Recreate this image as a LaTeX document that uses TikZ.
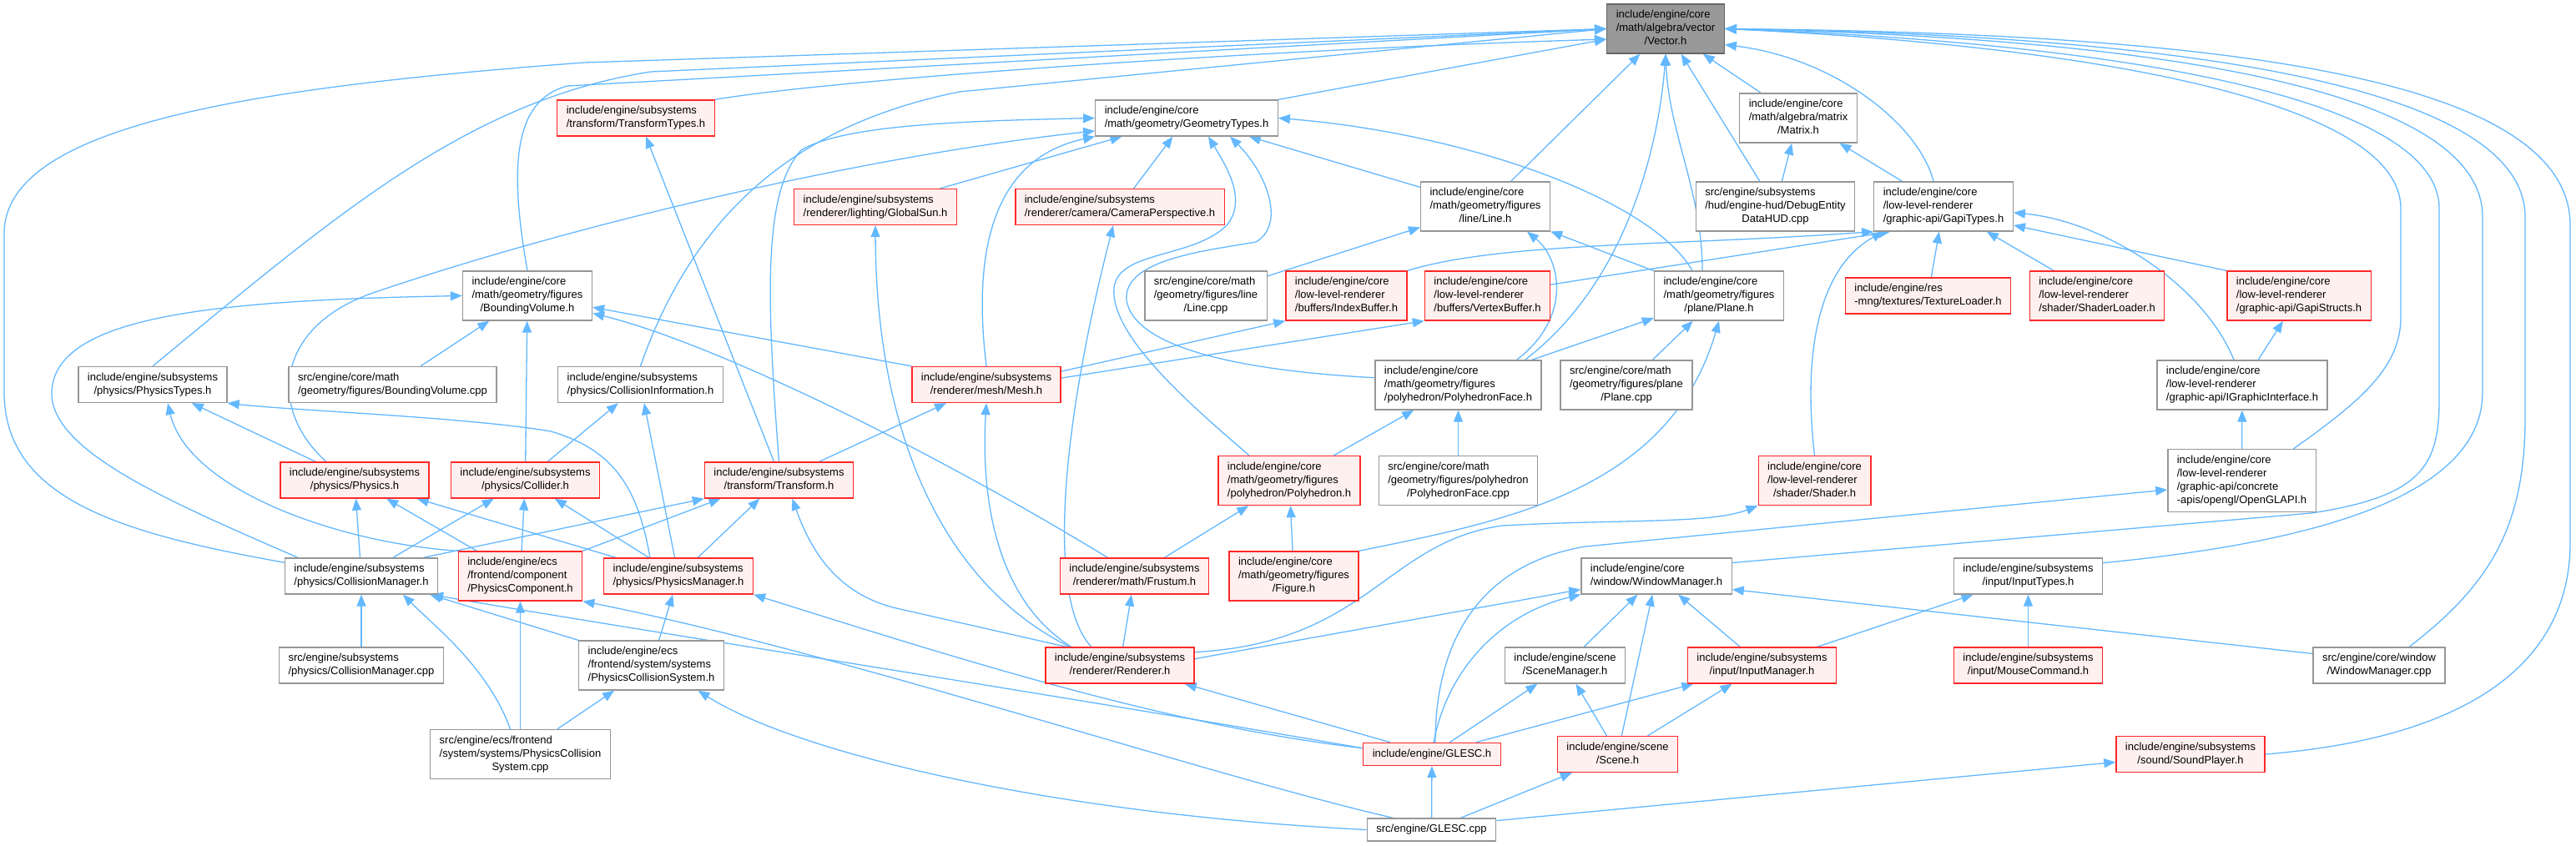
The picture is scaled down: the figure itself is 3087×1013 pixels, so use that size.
\documentclass[tikz,border=0pt]{standalone}
\usepackage{fontspec}
\setmainfont{Liberation Sans}
\definecolor{edgeblue}{RGB}{99,184,255}
\definecolor{boxgray}{RGB}{150,150,150}
\definecolor{rootfill}{RGB}{153,153,153}
\definecolor{rootline}{RGB}{102,102,102}
\definecolor{truncred}{RGB}{255,40,40}
\definecolor{truncfill}{RGB}{255,240,240}
\usetikzlibrary{arrows.meta, backgrounds}
\newcommand{\incpath}[2]{\begin{tabular}{@{}l@{}}#1\\\multicolumn{1}{@{}c@{}}{#2}\end{tabular}}

\begin{document}
\begin{tikzpicture}[x=0.5pt, y=-0.5pt,
    file/.style={draw=boxgray, fill=white, line width=0.65pt, inner xsep=5.5pt,
      inner ysep=2.75pt, font={\fontsize{6.5}{8}\selectfont}},
    trunc/.style={file, draw=truncred, fill=truncfill},
    root/.style={file, draw=rootline, fill=rootfill},
    dep/.style={draw=edgeblue, line width=0.65pt, -{Triangle[length=7pt, width=5.5pt]}},
  ]
    \useasboundingbox (0,0) rectangle (3087,1013);

    \node[root] (vec) at (1996,34.5) {\incpath{include/engine/core\\/math/algebra/vector}{/Vector.h}};
    \node[trunc] (transtypes) at (762,141.5) {\incpath{include/engine/subsystems}{/transform/TransformTypes.h}};
    \node[file] (geomtypes) at (1422,141.5) {\incpath{include/engine/core}{/math/geometry/GeometryTypes.h}};
    \node[file] (matrix) at (2155,141.5) {\incpath{include/engine/core\\/math/algebra/matrix}{/Matrix.h}};
    \node[trunc] (globalsun) at (1049,248) {\incpath{include/engine/subsystems}{/renderer/lighting/GlobalSun.h}};
    \node[trunc] (camera) at (1342,248) {\incpath{include/engine/subsystems}{/renderer/camera/CameraPerspective.h}};
    \node[file] (line) at (1780,247.5) {\incpath{include/engine/core\\/math/geometry/figures}{/line/Line.h}};
    \node[file] (debughud) at (2127.5,247.5) {\incpath{src/engine/subsystems\\/hud/engine-hud/DebugEntity}{DataHUD.cpp}};
    \node[file] (gapitypes) at (2329,247.5) {\incpath{include/engine/core\\/low-level-renderer}{/graphic-api/GapiTypes.h}};
    \node[file] (boundvol) at (632,354.5) {\incpath{include/engine/core\\/math/geometry/figures}{/BoundingVolume.h}};
    \node[file] (linecpp) at (1445,354.5) {\incpath{src/engine/core/math\\/geometry/figures/line}{/Line.cpp}};
    \node[trunc] (indexbuf) at (1613.5,354.5) {\incpath{include/engine/core\\/low-level-renderer}{/buffers/IndexBuffer.h}};
    \node[trunc] (vertexbuf) at (1782.5,354.5) {\incpath{include/engine/core\\/low-level-renderer}{/buffers/VertexBuffer.h}};
    \node[file] (plane) at (2060,354.5) {\incpath{include/engine/core\\/math/geometry/figures}{/plane/Plane.h}};
    \node[trunc] (texloader) at (2310.5,354.5) {\incpath{include/engine/res}{-mng/textures/TextureLoader.h}};
    \node[trunc] (shaderloader) at (2513,354.5) {\incpath{include/engine/core\\/low-level-renderer}{/shader/ShaderLoader.h}};
    \node[trunc] (gapistructs) at (2755,354.5) {\incpath{include/engine/core\\/low-level-renderer}{/graphic-api/GapiStructs.h}};
    \node[file] (phystypes) at (183,461) {\incpath{include/engine/subsystems}{/physics/PhysicsTypes.h}};
    \node[file] (boundvolcpp) at (470.5,461) {\incpath{src/engine/core/math}{/geometry/figures/BoundingVolume.cpp}};
    \node[file] (collinfo) at (767.5,461) {\incpath{include/engine/subsystems}{/physics/CollisionInformation.h}};
    \node[trunc] (mesh) at (1182,461) {\incpath{include/engine/subsystems}{/renderer/mesh/Mesh.h}};
    \node[file] (polyface) at (1747.5,461.5) {\incpath{include/engine/core\\/math/geometry/figures}{/polyhedron/PolyhedronFace.h}};
    \node[file] (planecpp) at (1949,461.5) {\incpath{src/engine/core/math\\/geometry/figures/plane}{/Plane.cpp}};
    \node[file] (igraphic) at (2687,461.5) {\incpath{include/engine/core\\/low-level-renderer}{/graphic-api/IGraphicInterface.h}};
    \node[trunc] (physics) at (425,575.5) {\incpath{include/engine/subsystems}{/physics/Physics.h}};
    \node[trunc] (collider) at (629.5,575.5) {\incpath{include/engine/subsystems}{/physics/Collider.h}};
    \node[trunc] (transform) at (933.5,575.5) {\incpath{include/engine/subsystems}{/transform/Transform.h}};
    \node[trunc] (polyhedron) at (1545,576) {\incpath{include/engine/core\\/math/geometry/figures}{/polyhedron/Polyhedron.h}};
    \node[file] (polyfacecpp) at (1747.5,576) {\incpath{src/engine/core/math\\/geometry/figures/polyhedron}{/PolyhedronFace.cpp}};
    \node[trunc] (shader) at (2174.5,576) {\incpath{include/engine/core\\/low-level-renderer}{/shader/Shader.h}};
    \node[file] (opengl) at (2686.5,576) {\incpath{include/engine/core\\/low-level-renderer\\/graphic-api/concrete}{-apis/opengl/OpenGLAPI.h}};
    \node[file] (collman) at (433,690.5) {\incpath{include/engine/subsystems}{/physics/CollisionManager.h}};
    \node[trunc] (physcomp) at (623.5,690.5) {\incpath{include/engine/ecs\\/frontend/component}{/PhysicsComponent.h}};
    \node[trunc] (physman) at (813,690.5) {\incpath{include/engine/subsystems}{/physics/PhysicsManager.h}};
    \node[trunc] (frustum) at (1359.5,690.5) {\incpath{include/engine/subsystems}{/renderer/math/Frustum.h}};
    \node[trunc] (figure) at (1550.5,690.5) {\incpath{include/engine/core\\/math/geometry/figures}{/Figure.h}};
    \node[file] (winman) at (1985,690.5) {\incpath{include/engine/core}{/window/WindowManager.h}};
    \node[file] (inputtypes) at (2430.5,690.5) {\incpath{include/engine/subsystems}{/input/InputTypes.h}};
    \node[file] (collmancpp) at (433,797.5) {\incpath{src/engine/subsystems}{/physics/CollisionManager.cpp}};
    \node[file] (physcollsys) at (780.5,797.5) {\incpath{include/engine/ecs\\/frontend/system/systems}{/PhysicsCollisionSystem.h}};
    \node[trunc] (renderer) at (1342,797.5) {\incpath{include/engine/subsystems}{/renderer/Renderer.h}};
    \node[file] (scenemgr) at (1875.5,797.5) {\incpath{include/engine/scene}{/SceneManager.h}};
    \node[trunc] (inputmgr) at (2111.5,797.5) {\incpath{include/engine/subsystems}{/input/InputManager.h}};
    \node[trunc] (mousecmd) at (2430.5,797.5) {\incpath{include/engine/subsystems}{/input/MouseCommand.h}};
    \node[file] (winmancpp) at (2851,797.5) {\incpath{src/engine/core/window}{/WindowManager.cpp}};
    \node[file] (physcollsyscpp) at (623.5,904) {\incpath{src/engine/ecs/frontend\\/system/systems/PhysicsCollision}{System.cpp}};
    \node[trunc] (glesch) at (1716,904) {\strut include/engine/GLESC.h};
    \node[trunc] (scene) at (1938.5,904) {\incpath{include/engine/scene}{/Scene.h}};
    \node[trunc] (soundplayer) at (2625,904) {\incpath{include/engine/subsystems}{/sound/SoundPlayer.h}};
    \node[file] (glesccpp) at (1715.5,994.5) {\strut src/engine/GLESC.cpp};

    \begin{scope}[on background layer]
    \fill[white] (0,0) rectangle (3087,1013);
    % into Vector.h
    \draw[dep] (collman.170) .. controls (150,640) and (5,600) .. (5,470) -- (5,280) .. controls (5,150) and (300,105) .. (700,75) -- (vec.west);
    \draw[dep] (phystypes.north) .. controls (400,260) and (560,120) .. (780,86) -- (vec.west);
    \draw[dep] (boundvol.north) .. controls (610,200) and (615,120) .. (680,103) -- (vec.west);
    \draw[dep] (transtypes.north east) .. controls (1000,95) and (1500,60) .. (vec.190);
    \draw[dep] (collinfo.north) .. controls (830,260) and (950,150) .. (1150,110) -- (vec.west);
    \draw[dep] (geomtypes.north east) -- (vec.190);
    \draw[dep] (line) -- (vec);
    \draw[dep] ([xshift=40pt]polyface.north) .. controls (1960,330) and (1990,150) .. (vec.south);
    \draw[dep] ([xshift=-10pt]plane.north) .. controls (2040,230) and (2000,160) .. (vec.south);
    \draw[dep] (debughud) -- (vec);
    \draw[dep] (matrix) -- (vec);
    \draw[dep] ([xshift=-6pt]gapitypes.north) .. controls (2300,150) and (2200,70) .. (vec.-15);
    \draw[dep] ([xshift=31pt]opengl.north) .. controls (2830,480) and (2877,440) .. (2877,380) -- (2877,250) .. controls (2877,120) and (2500,55) .. (vec.east);
    \draw[dep] (winman.10) -- (2770,615) .. controls (2900,595) and (2923,560) .. (2923,480) -- (2923,250) .. controls (2923,110) and (2500,50) .. (vec.east);
    \draw[dep] (inputtypes.10) .. controls (2720,655) and (2975,610) .. (2975,470) -- (2975,260) .. controls (2975,100) and (2550,45) .. (vec.east);
    \draw[dep] ([xshift=18pt]winmancpp.north) .. controls (2985,700) and (3026,630) .. (3026,500) -- (3026,260) .. controls (3026,100) and (2600,42) .. (vec.east);
    \draw[dep] (soundplayer.east) .. controls (2950,885) and (3080,800) .. (3080,650) -- (3080,270) .. controls (3080,90) and (2650,40) .. (vec.east);
    % into GeometryTypes.h
    \draw[dep] (transform.north) .. controls (918,350) and (915,230) .. (960,180) .. controls (1010,150) and (1150,145) .. (geomtypes.west);
    \draw[dep] ([xshift=-17pt]physics.north) .. controls (320,490) and (330,390) .. (450,350) .. controls (700,265) and (1050,185) .. (geomtypes.188);
    \draw[dep] (mesh.north) .. controls (1165,300) and (1190,190) .. (geomtypes.south west);
    \draw[dep] (globalsun) -- (geomtypes);
    \draw[dep] (camera) -- (geomtypes);
    \draw[dep] ([xshift=-24pt]polyhedron.north) .. controls (1420,480) and (1330,400) .. (1335,345) .. controls (1340,300) and (1430,310) .. (1470,270) .. controls (1495,240) and (1470,200) .. ([xshift=13pt]geomtypes.south);
    \draw[dep] (polyface.175) .. controls (1500,445) and (1360,420) .. (1350,360) .. controls (1345,310) and (1450,300) .. (1505,290) .. controls (1540,270) and (1520,210) .. ([xshift=26pt]geomtypes.south);
    \draw[dep] (line) -- (geomtypes);
    \draw[dep] ([xshift=-16pt]plane.north) .. controls (1980,240) and (1760,160) .. (geomtypes.east);
    % Line.h, Matrix.h, GapiTypes.h
    \draw[dep] ([xshift=35pt]polyface.north) .. controls (1885,380) and (1870,310) .. ([xshift=25pt]line.south);
    \draw[dep] (plane) -- (line);
    \draw[dep] (linecpp) -- (line);
    \draw[dep] (debughud) -- (matrix);
    \draw[dep] (gapitypes) -- (matrix);
    \draw[dep] (indexbuf.north east) .. controls (1800,290) and (2000,295) .. (gapitypes.south west);
    \draw[dep] (vertexbuf.10) -- ([xshift=10pt]gapitypes.south west);
    \draw[dep] (shader.north) .. controls (2160,420) and (2180,320) .. ([xshift=-36pt]gapitypes.south);
    \draw[dep] (texloader) -- (gapitypes);
    \draw[dep] (shaderloader) -- (gapitypes);
    \draw[dep] (gapistructs.north west) -- (gapitypes.-15);
    \draw[dep] ([xshift=-5pt]igraphic.north) .. controls (2640,340) and (2520,265) .. (gapitypes.-5);
    \draw[dep] (igraphic) -- (gapistructs);
    \draw[dep] (opengl) -- (igraphic);
    % GLESC
    \draw[dep] (glesch) -- (renderer);
    \draw[dep] (glesch.175) .. controls (1400,870) and (1150,790) .. (physman.south east);
    \draw[dep] (glesch.175) .. controls (1250,830) and (700,745) .. ([xshift=-4pt]collman.south east);
    \draw[dep] ([xshift=2pt]glesch.north) .. controls (1720,760) and (1780,675) .. (1900,655) -- (opengl.187);
    \draw[dep] ([xshift=1pt]glesch.north) .. controls (1735,800) and (1800,735) .. (winman.south west);
    \draw[dep] (glesch) -- (scenemgr);
    \draw[dep] (glesch) -- (inputmgr);
    \draw[dep] (glesccpp) -- (glesch);
    \draw[dep] (glesccpp) -- (scene);
    \draw[dep] (glesccpp.8) -- (soundplayer.186);
    \draw[dep] (glesccpp.west) .. controls (1250,975) and (950,900) .. ([xshift=28pt]physcollsys.south);
    \draw[dep] ([xshift=-23pt]glesccpp.north) .. controls (1450,930) and (1000,780) .. (physcomp.south east);
    % scene, window, input
    \draw[dep] (scene) -- (scenemgr);
    \draw[dep] (scene) -- (winman);
    \draw[dep] (scene) -- (inputmgr);
    \draw[dep] (scenemgr) -- (winman);
    \draw[dep] (inputmgr) -- (winman);
    \draw[dep] (inputmgr) -- (inputtypes);
    \draw[dep] (mousecmd) -- (inputtypes);
    \draw[dep] (winmancpp.170) -- (winman.-10);
    % renderer
    \draw[dep] ([xshift=-32pt]renderer.north) -- (1070,728) .. controls (1010,712) and (975,670) .. ([xshift=8pt]transform.south);
    \draw[dep] ([xshift=-30pt]renderer.north) .. controls (1130,700) and (1050,520) .. (globalsun.south);
    \draw[dep] ([xshift=-29pt]renderer.north) .. controls (1195,720) and (1175,600) .. (mesh.south);
    \draw[dep] ([xshift=-17pt]renderer.north) .. controls (1255,720) and (1270,520) .. ([xshift=-4pt]camera.south);
    \draw[dep] (renderer) -- (frustum);
    \draw[dep] (renderer.10) .. controls (1640,770) and (1660,650) .. (1800,630) .. controls (1950,622) and (2050,628) .. (shader.south west);
    \draw[dep] (renderer.5) -- (winman.190);
    \draw[dep] ([xshift=-16pt]frustum.north) .. controls (1100,530) and (850,410) .. (boundvol.-15);
    \draw[dep] (frustum) -- (polyhedron);
    % mesh, transform
    \draw[dep] (mesh.north west) -- (boundvol.-10);
    \draw[dep] (mesh.10) -- (indexbuf.south west);
    \draw[dep] (mesh.5) -- (vertexbuf.south west);
    \draw[dep] (transform) -- (mesh);
    \draw[dep] ([xshift=-3pt]transform.north) -- ([xshift=6pt]transtypes.south);
    \draw[dep] ([xshift=-9pt]collman.north east) -- (transform.south west);
    \draw[dep] (physcomp.north east) -- ([xshift=-35pt]transform.south);
    \draw[dep] (physman) -- (transform);
    % physics
    \draw[dep] (physics) -- (phystypes);
    \draw[dep] (collman) -- (physics);
    \draw[dep] (physcomp) -- (physics);
    \draw[dep] (physman) -- (physics);
    \draw[dep] (collider) -- (boundvol);
    \draw[dep] (collider) -- (collinfo);
    \draw[dep] (collman) -- (collider);
    \draw[dep] (physcomp) -- (collider);
    \draw[dep] (physman) -- (collider);
    \draw[dep] (physman) -- (collinfo);
    \draw[dep] (physcomp.north west) .. controls (400,650) and (225,585) .. ([xshift=9pt]phystypes.south);
    \draw[dep] ([xshift=-17pt]physman.north) .. controls (765,590) and (740,540) .. (660,517) .. controls (560,500) and (350,492) .. (phystypes.south east);
    \draw[dep] (boundvolcpp) -- (boundvol);
    \draw[dep] ([xshift=-38pt]collman.north) .. controls (200,600) and (60,540) .. (62,470) .. controls (65,380) and (250,360) .. (boundvol.west);
    \draw[dep] (collmancpp) -- (collman);
    \draw[dep] (physcollsys.north west) -- ([xshift=-5pt]collman.south east);
    \draw[dep] ([xshift=-6pt]physcollsyscpp.north) .. controls (585,800) and (520,750) .. ([xshift=25pt]collman.south);
    \draw[dep] (physcollsyscpp) -- (physcomp);
    \draw[dep] (physcollsyscpp) -- (physcollsys);
    \draw[dep] (physcollsys) -- (physman);
    % figures
    \draw[dep] (polyhedron) -- (polyface);
    \draw[dep] (polyfacecpp) -- (polyface);
    \draw[dep] (figure) -- (polyhedron);
    \draw[dep] (figure.north east) .. controls (1800,625) and (2000,590) .. (plane.south);
    \draw[dep] (polyface) -- (plane);
    \draw[dep] (planecpp) -- (plane);
    \end{scope}
\end{tikzpicture}
\end{document}
